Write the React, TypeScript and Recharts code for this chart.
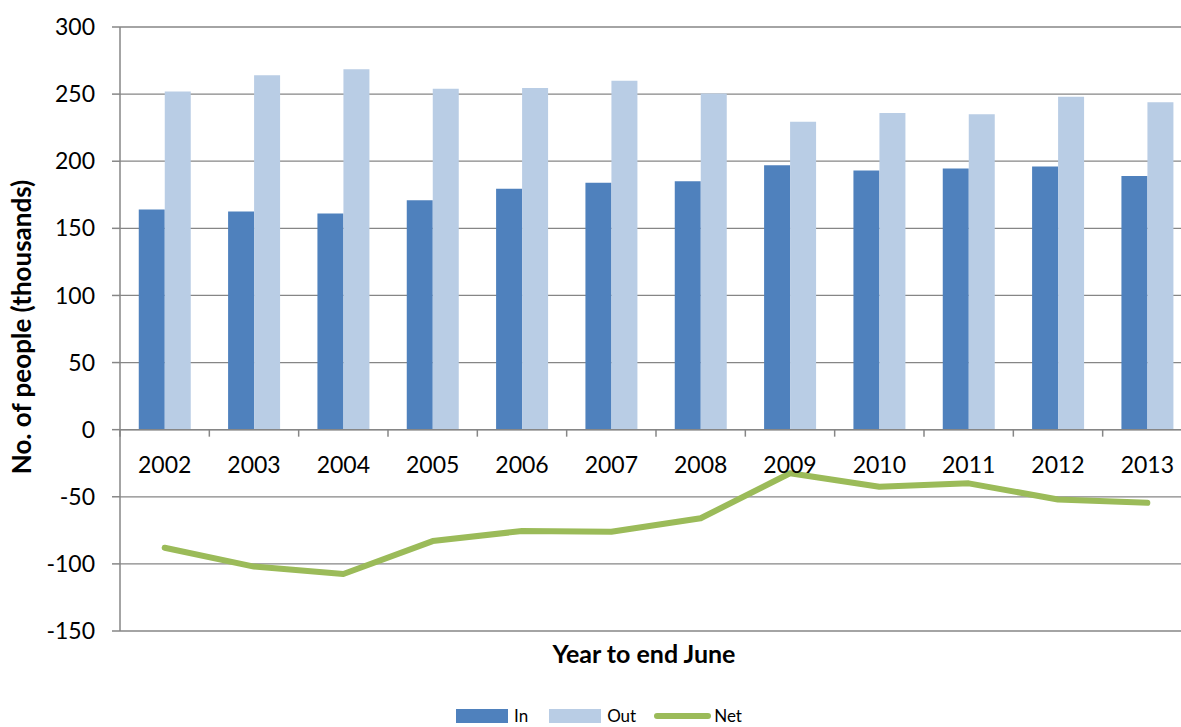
import React from "react"
import {
  ComposedChart,
  Bar,
  Line,
  XAxis,
  YAxis,
  CartesianGrid,
  Legend,
  ReferenceLine,
  ReferenceDot,
} from "recharts"

const years = ["2002", "2003", "2004", "2005", "2006", "2007", "2008", "2009", "2010", "2011", "2012", "2013"]
const inflow = [164, 162.5, 161, 171, 179.5, 184, 185, 197, 193, 194.5, 196, 189]
const outflow = [252, 264, 268.5, 254, 254.5, 260, 250.5, 229.5, 236, 235, 248, 244]
const net = [-88, -102, -107.5, -83, -75.5, -76, -66, -32.5, -42.5, -40, -52, -54.5]
const yTicks = [-150, -100, -50, 0, 50, 100, 150, 200, 250, 300]

const series = [
  { key: "In", color: "#4f81bd", kind: "bar" },
  { key: "Out", color: "#b9cde5", kind: "bar" },
  { key: "Net", color: "#9bbb59", kind: "line" },
]

const data = years.map((year, i) => ({ year, In: inflow[i], Out: outflow[i], Net: net[i] }))

const FONT = "Lato, 'Open Sans', sans-serif"
const GRID = "#868686"
const CHART_W = 1200
const CHART_H = 740
const MARGIN = { top: 27, right: 8, bottom: 0, left: 0 }
const Y_W = 120
const BAND = (CHART_W - MARGIN.left - MARGIN.right - Y_W) / years.length

// year label under the zero line, plus the boundary tick on its left
function CategoryTick({ cx, cy, label }: { cx?: number; cy?: number; label: string }) {
  if (cx == null || cy == null) return null
  const left = cx - BAND / 2
  return (
    <g>
      <line x1={left} x2={left} y1={cy} y2={cy + 7} stroke={GRID} strokeWidth={1.5} />
      <text x={cx} y={cy + 34} textAnchor="middle" dominantBaseline="central" fontFamily={FONT} fontSize={23} fill="#000">
        {label}
      </text>
    </g>
  )
}

function LegendBox() {
  return (
    <div style={{ display: "flex", alignItems: "center", fontFamily: FONT, fontSize: 17, color: "#000", lineHeight: "18px" }}>
      {series.map((s) => (
        <div key={s.key} style={{ display: "flex", alignItems: "center", marginRight: s.key === "In" ? 21 : 18 }}>
          {s.kind === "bar" ? (
            <span style={{ display: "inline-block", width: 52, height: 14, background: s.color, marginRight: 6 }} />
          ) : (
            <span style={{ display: "inline-block", width: 57, height: 6, borderRadius: 3, background: s.color, marginRight: 3 }} />
          )}
          <span>{s.key}</span>
        </div>
      ))}
    </div>
  )
}

export default function App() {
  return (
    <div style={{ position: "absolute", left: 0, top: 0, width: 1181, height: 727, overflow: "hidden", background: "#fff" }}>
      <ComposedChart width={CHART_W} height={CHART_H} data={data} margin={MARGIN} barCategoryGap="21%" barGap={0}>
        <CartesianGrid vertical={false} stroke={GRID} strokeWidth={1.3} />
        <XAxis
          dataKey="year"
          tick={false}
          tickLine={false}
          axisLine={false}
          height={89}
          label={(props: any) => {
            const vb = props.viewBox
            return (
              <text x={vb.x + vb.width / 2 - 12} y={vb.y + 22} textAnchor="middle" dominantBaseline="central" fontFamily={FONT} fontWeight={700} fontSize={25} fill="#000">
                Year to end June
              </text>
            )
          }}
        />
        <YAxis
          width={Y_W}
          domain={[-150, 300]}
          ticks={yTicks}
          interval={0}
          stroke={GRID}
          strokeWidth={1.5}
          tickSize={8}
          tickMargin={17}
          tick={{ fill: "#000", fontFamily: FONT, fontSize: 23 }}
          label={(props: any) => {
            const vb = props.viewBox
            const cy = vb.y + vb.height / 2 - 2
            return (
              <text x={21} y={cy} transform={`rotate(-90, 21, ${cy})`} textAnchor="middle" dominantBaseline="central" fontFamily={FONT} fontWeight={700} fontSize={26} fill="#000">
                No. of people (thousands)
              </text>
            )
          }}
        />
        <ReferenceLine y={0} stroke={GRID} strokeWidth={1.5} />
        <Bar dataKey="In" fill={series[0].color} isAnimationActive={false} />
        <Bar dataKey="Out" fill={series[1].color} isAnimationActive={false} />
        {years.map((y) => (
          <ReferenceDot key={y} x={y} y={0} r={0} shape={(p: any) => <CategoryTick cx={p.cx} cy={p.cy} label={y} />} />
        ))}
        <Line
          dataKey="Net"
          type="linear"
          stroke={series[2].color}
          strokeWidth={6}
          strokeLinejoin="round"
          strokeLinecap="round"
          dot={false}
          activeDot={false}
          isAnimationActive={false}
        />
        <Legend content={() => <LegendBox />} wrapperStyle={{ left: 456, top: 707, width: "auto", height: 20 }} />
      </ComposedChart>
    </div>
  )
}
